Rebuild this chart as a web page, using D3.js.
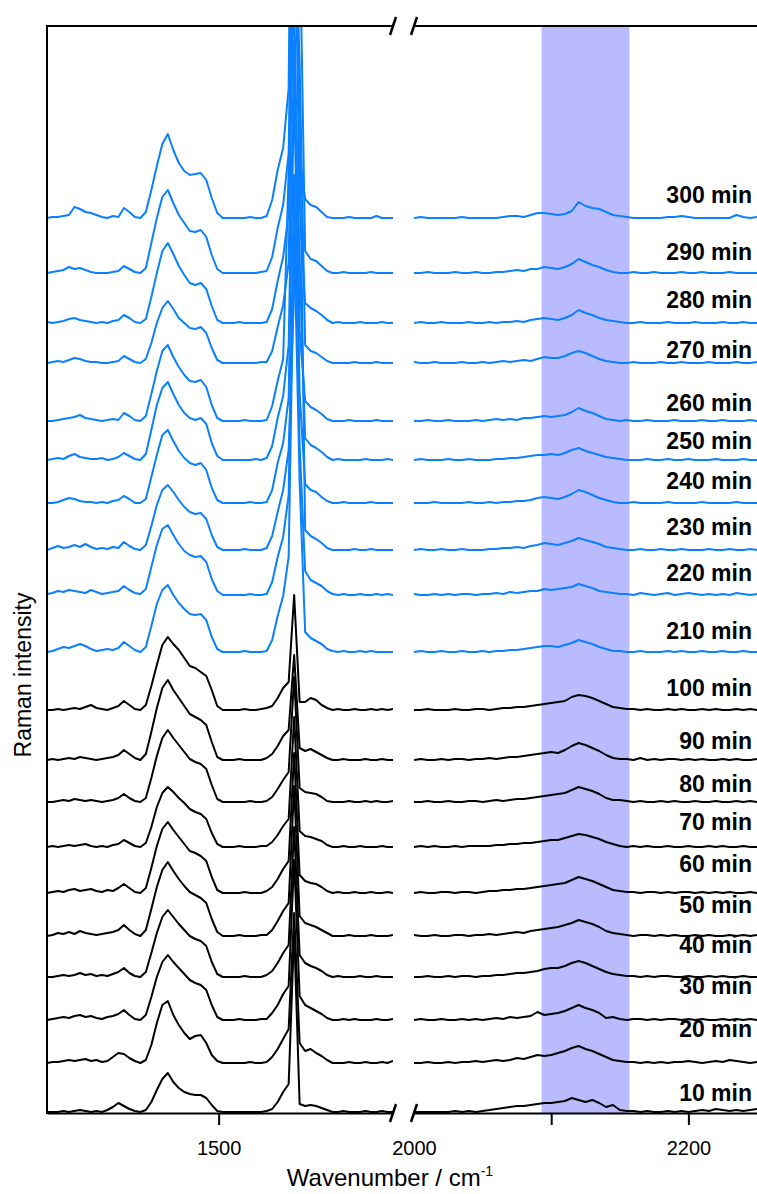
<!DOCTYPE html>
<html>
<head>
<meta charset="utf-8">
<script src="https://cdn.jsdelivr.net/npm/d3@7"></script>
<style>
  body { margin: 0; background: #fff; }
  text { font-family: "Liberation Sans", Arial, sans-serif; }
</style>
</head>
<body>
<div id="chart"></div>
<script>
// wavenumber grids (cm-1) for the two panels of the broken axis
const leftWn = [1375,1379,1383,1387,1391,1395,1399,1403,1407,1411,1415,1419,1423,1427,1431,1435,
  1439,1443,1447,1451,1455,1459,1463,1467,1471,1475,1479,1483,1487,1491,1495,1499,1503,1507,1511,
  1515,1519,1523,1527,1531,1535,1539,1543,1547,1551,1555,1559,1563,1567,1571,1575,1579,1583,1587,
  1591,1595,1599,1603,1607,1611,1615,1619,1623,1627];
const rightWn = [2000,2005,2010,2015,2020,2025,2030,2035,2040,2045,2050,2055,2060,2065,2070,2075,
  2080,2085,2090,2095,2100,2105,2110,2115,2120,2125,2130,2135,2140,2145,2150,2155,2160,2165,2170,
  2175,2180,2185,2190,2195,2200,2205,2210,2215,2220,2225,2230,2235,2240,2245,2250];

const times = [10,20,30,40,50,60,70,80,90,100,210,220,230,240,250,260,270,280,290,300];
// vertical stacking offset of every spectrum (a.u.)
const stackOffset = [1,50,93,136,177,220,266,311,353,403,461,518,563,610,653,692,750,790,840,895];
// where each time label sits above its spectrum (a.u.)
const labelLift = [19,34,34,32,31,29,25,18,19,22,21,22,23,22,19,18,13,23,21,23];

const highlight = [2093, 2157];
const leftTicks = [1500];
const rightTicks = [2000, 2100, 2200];

// intensities, left panel
const left10  = [0,0,0,1,0,1,2,1,0,1,0,2,5,9,6,3,1,0, 2,10,22,33,39,30,24,20,18,17,17,14,7,1,0, 0,0,0,0,0,0,0,1, 3,10,20,28,180,8,6,7,6,4,2,0, 0,1,0,0,0,1,0,0,1,0,0];
const left20  = [0,1,1,2,3,2,3,4,2,3,1,2,6,10,9,5,2,0, 3,18,40,58,62,48,38,30,24,27,28,20,8,2,0, 0,0,0,0,1,0,0,1, 6,14,24,34,150,20,12,14,10,7,3,0, 0,0,1,0,0,1,0,0,1,0,2];
const left30  = [0,1,2,3,2,4,5,3,4,2,1,3,4,6,10,5,1,0, 5,23,43,58,65,58,52,46,40,37,35,30,15,3,0, 0,0,1,0,0,0,1,1, 7,15,26,34,160,24,15,12,9,6,2,0, 0,1,0,1,0,0,0,1,0,0,1];
const left40  = [0,0,1,2,1,2,4,2,3,1,2,1,3,5,9,4,1,0, 5,24,44,60,67,60,53,47,41,38,36,31,15,3,0, 0,0,0,1,0,0,0,2, 6,14,24,32,150,22,14,11,9,6,2,0, 1,0,0,0,1,0,0,1,0,0,0];
const left50  = [0,1,3,2,4,2,5,3,2,1,2,3,4,6,11,6,2,0, 6,27,49,66,74,65,57,50,44,41,38,33,17,4,0, 0,0,1,0,0,0,1,1, 6,15,25,33,150,20,13,11,9,6,3,0, 0,0,1,0,0,0,1,0,0,0,1];
const left60  = [0,1,2,1,3,4,2,3,4,2,1,3,2,5,9,5,1,0, 5,25,47,64,71,63,56,49,42,40,37,32,16,3,0, 0,0,0,1,0,0,0,2, 6,14,24,32,140,18,12,10,9,6,2,0, 1,0,0,1,0,0,1,0,0,1,0];
const left70  = [0,1,0,1,2,1,2,3,1,0,1,0,2,3,7,4,1,0, 4,20,40,54,60,55,49,44,38,35,33,28,14,3,0, 0,0,1,0,0,0,1,1, 5,12,21,28,130,16,11,10,8,6,2,0, 0,1,0,0,1,0,0,0,1,0,0];
const left80  = [0,0,1,2,1,3,2,1,2,1,0,1,2,4,8,4,1,0, 4,24,46,64,72,64,57,50,43,40,38,33,17,3,0, 0,0,0,0,1,0,0,1, 5,13,22,30,125,14,10,9,8,5,1,0, 0,0,1,0,0,1,0,1,0,0,1];
const left90  = [0,1,0,1,2,1,3,2,1,0,1,2,3,5,10,6,2,0, 6,28,52,72,80,70,62,54,46,43,40,35,18,3,0, 0,0,1,0,0,0,0,2, 6,14,24,30,105,12,9,11,8,5,2,0, 0,1,0,0,0,1,0,0,1,0,0];
const left100 = [0,0,1,0,1,2,1,3,5,2,1,0,2,4,9,5,1,0, 5,24,45,65,73,66,60,52,44,42,38,34,20,4,0, 0,0,0,1,0,0,1,2, 4,12,22,28,115,8,8,12,10,5,2,0, 1,0,0,1,0,0,1,0,1,0,1];
const left210 = [0,1,3,5,4,6,8,6,3,1,2,3,2,4,10,6,2,0, 5,26,48,62,67,57,49,43,38,37,38,32,15,3,0, 0,0,0,1,0,0,0,1, 12,36,56,95,420,170,20,14,11,8,3,1, 0,1,0,0,1,0,1,0,0,0,0];
const left220 = [1,2,4,3,5,4,3,2,5,3,1,2,3,4,9,5,2,1, 6,28,50,66,70,60,51,44,40,38,39,33,16,4,0, 0,0,0,0,1,0,0,1, 13,38,58,100,420,150,24,15,12,9,4,1, 0,1,0,0,1,0,0,1,0,1,0];
const left230 = [0,2,4,2,3,5,3,6,3,1,2,1,3,2,8,4,1,0, 5,24,45,60,65,58,50,43,38,36,37,31,15,3,0, 0,0,0,1,0,0,0,2, 14,38,60,100,260,430,20,14,11,7,2,0, 0,0,0,1,0,0,1,0,0,0,0];
const left240 = [0,0,1,3,5,4,2,1,1,0,1,0,2,3,7,4,0,0, 4,26,48,68,73,62,52,45,40,38,40,33,15,3,0, 0,0,0,0,1,0,0,1, 13,40,60,105,420,110,19,13,11,6,2,0, 0,1,0,0,0,0,1,0,0,0,0];
const left250 = [0,1,2,1,4,6,3,2,1,1,2,0,1,3,7,4,1,0, 6,30,55,72,78,66,55,47,42,40,42,36,17,4,0, 0,0,0,0,0,1,0,2, 14,42,64,115,420,200,22,15,12,8,3,0, 1,0,0,0,0,1,0,0,0,1,0];
const left260 = [0,0,1,2,3,4,6,3,2,1,0,1,2,1,8,5,1,0, 5,27,50,70,76,64,54,46,40,39,41,34,16,3,0, 0,0,0,1,0,0,0,1, 15,40,62,250,430,90,20,14,11,7,2,0, 0,0,1,0,0,0,0,1,0,0,0];
const left270 = [0,1,2,1,3,5,4,2,1,1,0,0,1,2,7,4,1,0, 4,20,40,55,62,54,45,40,35,34,36,30,15,3,0, 0,0,0,0,0,0,1,1, 12,36,58,100,440,300,18,12,10,6,2,0, 0,0,0,1,0,0,0,1,0,0,0];
const left280 = [1,0,1,2,4,5,3,2,1,0,1,0,2,3,8,5,1,0, 4,26,50,72,80,69,57,48,40,38,40,34,17,3,0, 0,0,1,0,0,0,0,1, 14,42,66,110,460,120,20,15,12,8,3,0, 1,0,0,0,1,0,0,0,1,0,0];
const left290 = [0,1,2,3,6,4,5,3,1,0,0,0,1,2,7,4,1,0, 5,30,55,76,83,70,58,50,42,41,43,36,18,4,0, 0,0,0,0,0,0,1,2, 16,45,68,120,500,350,22,14,12,7,2,0, 0,1,0,0,0,0,1,0,0,0,0];
const left300 = [0,1,1,2,3,11,9,6,5,3,1,0,2,1,10,6,1,0, 6,28,52,74,84,68,55,47,43,44,45,38,20,5,0, 0,0,0,0,1,0,0,2, 18,48,70,130,700,60,19,13,11,6,1,0, 0,0,1,0,0,0,0,2,0,0,0];

// intensities, right panel
const right10  = [0,0,0,0,0,0,1,0,1,0, 1,2,3,4,5,6,6,7,8,9, 9,10,11,14,12,10,12,9,5,7, 2,1,1,0,1,0,0,1,0,1, 0,1,2,1,3,2,1,2,1,2, 3];
const right20  = [0,0,1,0,0,1,0,1,1,2, 1,2,3,2,3,5,4,6,8,7, 8,10,12,15,17,14,12,9,6,3, 2,1,1,0,1,0,1,0,1,1, 2,1,0,1,2,1,3,2,1,0, 1];
const right30  = [0,1,0,0,1,0,0,1,0,1, 0,1,2,1,3,2,3,4,8,5, 6,7,9,12,15,12,10,7,2,3, 1,0,1,1,0,1,0,1,1,0, 1,0,1,0,0,1,0,1,0,1, 0];
const right40  = [0,0,1,0,0,1,0,1,1,0, 1,1,2,2,3,4,4,5,6,8, 9,9,11,14,16,14,11,8,5,3, 2,1,1,0,1,0,1,1,0,0, 1,0,0,1,0,1,0,0,1,0, 0];
const right50  = [1,0,0,1,0,0,1,1,0,1, 1,2,1,2,3,4,3,5,6,7, 8,9,11,13,16,14,12,9,5,3, 2,1,0,1,1,0,1,0,1,0, 0,1,0,1,0,0,1,0,1,0, 1];
const right60  = [0,1,0,0,1,1,0,1,1,0, 1,2,2,3,3,4,4,5,6,7, 8,9,10,13,16,14,12,9,6,3, 2,1,1,0,1,1,0,1,0,1, 1,0,1,0,1,0,1,0,0,1, 0];
const right70  = [0,1,0,1,0,0,1,0,1,1, 1,1,2,2,3,3,4,4,5,6, 7,7,9,11,13,12,10,8,5,3, 1,0,1,0,1,0,0,1,0,0, 1,0,0,1,0,1,0,0,1,0, 0];
const right80  = [0,0,1,0,0,1,0,0,1,1, 0,1,2,1,2,3,3,4,5,6, 7,8,9,12,15,13,11,8,4,2, 2,1,0,1,0,0,1,0,1,0, 0,1,0,0,1,0,0,1,0,1, 0];
const right90  = [0,1,0,0,1,0,1,1,0,1, 1,2,1,2,3,3,4,5,6,7, 8,7,10,14,17,15,12,9,5,2, 1,1,0,2,0,1,0,1,1,0, 1,0,1,0,0,1,0,1,0,0, 1];
const right100 = [0,0,1,0,0,0,1,0,0,1, 1,0,1,2,2,3,3,4,5,6, 7,8,9,13,15,14,12,9,6,3, 2,1,1,0,1,0,0,1,0,1, 0,0,1,0,1,0,0,1,0,1, 0];
const right210 = [0,1,0,0,1,0,0,1,0,0, 1,0,1,1,2,2,3,4,5,6, 6,5,7,9,12,10,8,5,3,1, 1,0,0,1,0,0,0,1,0,1, 0,0,1,0,0,1,0,0,1,0, 0];
const right220 = [1,0,0,1,0,1,0,1,1,0, 1,1,2,1,3,2,3,4,4,6, 5,6,7,8,11,9,7,4,3,2, 1,1,0,2,1,0,1,2,0,1, 2,1,0,1,0,1,0,2,1,0, 1];
const right230 = [0,1,0,0,1,0,0,1,0,0, 0,1,1,2,2,3,2,4,5,7, 6,5,7,9,12,10,8,6,3,2, 1,0,0,1,0,0,1,0,0,1, 0,0,0,1,0,0,1,0,0,1, 0];
const right240 = [0,0,0,1,0,0,0,0,1,0, 0,1,0,1,1,2,2,3,5,6, 5,4,6,9,13,11,8,5,3,1, 0,0,1,0,0,0,0,1,0,0, 0,0,1,0,0,0,0,1,0,0, 0];
const right250 = [0,1,0,0,0,1,0,0,1,0, 0,0,1,1,2,2,3,4,5,5, 6,5,7,10,12,9,7,5,3,2, 1,0,0,0,1,0,0,1,0,0, 1,0,0,0,1,0,0,0,1,0, 0];
const right260 = [0,0,1,0,0,1,0,0,0,1, 0,1,2,1,2,1,3,3,4,5, 4,5,6,9,13,10,8,5,2,1, 0,1,0,0,1,0,0,0,1,0, 0,0,1,0,0,1,0,0,0,1, 0];
const right270 = [1,0,0,1,0,0,0,1,0,0, 1,0,1,2,1,2,3,2,4,6, 5,5,7,10,12,10,7,4,2,1, 0,0,1,0,0,0,1,0,0,1, 0,0,0,1,0,0,0,1,0,0, 1];
const right280 = [0,1,0,0,1,0,0,0,1,0, 0,1,0,1,1,2,1,3,4,5, 4,3,5,8,13,10,8,5,3,2, 1,0,0,1,0,0,0,1,0,0, 0,1,0,0,0,1,0,0,1,0, 0];
const right290 = [0,0,1,0,0,0,1,0,0,1, 0,0,1,1,2,3,2,4,4,6, 5,4,6,9,14,11,8,6,3,1, 0,0,1,0,0,1,0,0,0,1, 0,0,1,0,0,0,1,0,0,0, 0];
const right300 = [0,1,0,0,0,0,0,1,0,0, 0,0,0,1,2,2,1,3,5,5, 4,3,4,7,16,12,10,9,6,3, 2,1,0,0,0,0,0,1,1,2, 1,0,0,0,0,0,0,3,1,0, 1];

const leftSeries = [left10,left20,left30,left40,left50,left60,left70,left80,left90,left100,
  left210,left220,left230,left240,left250,left260,left270,left280,left290,left300];
const rightSeries = [right10,right20,right30,right40,right50,right60,right70,right80,right90,right100,
  right210,right220,right230,right240,right250,right260,right270,right280,right290,right300];

function makeGraph() {
    let w = 757, h = 1194;
    let top = 26, bottom = 1113, left = 47;
    let svg = d3.select('#chart')
        .append('svg')
        .attr('width', w)
        .attr('height', h);

    let xLeft = d3.scaleLinear().domain([1375, 1627]).range([left, 393]);
    let xRight = d3.scaleLinear().domain([2000, 2250]).range([414, w]);
    let y = d3.scaleLinear().domain([0, 1087]).range([bottom, top]);

    let defs = svg.append('defs');
    defs.append('clipPath').attr('id', 'clipL')
        .append('rect').attr('x', left).attr('y', top)
        .attr('width', 393 - left).attr('height', bottom - top);
    defs.append('clipPath').attr('id', 'clipR')
        .append('rect').attr('x', 414).attr('y', top)
        .attr('width', w - 414).attr('height', bottom - top);

    // shaded band
    svg.append('rect')
        .attr('x', xRight(highlight[0]))
        .attr('y', top)
        .attr('width', xRight(highlight[1]) - xRight(highlight[0]))
        .attr('height', bottom - top)
        .style('fill', '#babaff');

    let spectra = times.map((t, i) => ({
        time: t,
        offset: stackOffset[i],
        lift: labelLift[i],
        color: t > 200 ? '#0a80ff' : '#000',
        left: leftWn.map((wn, j) => ({wn: wn, v: leftSeries[i][j]})),
        right: rightWn.map((wn, j) => ({wn: wn, v: rightSeries[i][j]}))
    }));

    // draw from top spectrum down so lower ones sit on top
    let ordered = spectra.slice().reverse();

    let gl = svg.append('g').attr('clip-path', 'url(#clipL)');
    let gr = svg.append('g').attr('clip-path', 'url(#clipR)');

    ordered.forEach(s => {
        let lineL = d3.line().x(d => xLeft(d.wn)).y(d => y(s.offset + d.v));
        let lineR = d3.line().x(d => xRight(d.wn)).y(d => y(s.offset + d.v));
        gl.append('path')
            .attr('d', lineL(s.left))
            .attr('fill', 'none')
            .attr('stroke', s.color)
            .attr('stroke-width', 2)
            .attr('stroke-linejoin', 'round');
        gr.append('path')
            .attr('d', lineR(s.right))
            .attr('fill', 'none')
            .attr('stroke', s.color)
            .attr('stroke-width', 2)
            .attr('stroke-linejoin', 'round');
    });

    // labels
    svg.selectAll('.lab')
        .data(spectra)
        .enter()
        .append('text')
        .attr('x', 752)
        .attr('y', d => y(d.offset + d.lift))
        .attr('dy', '0.35em')
        .attr('text-anchor', 'end')
        .style('font-size', '23px')
        .style('font-weight', 'bold')
        .text(d => d.time + ' min');

    // axes
    let axL = d3.axisBottom(xLeft).tickValues(leftTicks).tickSize(12).tickSizeOuter(0).tickPadding(16)
        .tickFormat(d3.format('d'));
    let axR = d3.axisBottom(xRight).tickValues(rightTicks).tickSize(12).tickSizeOuter(0).tickPadding(16)
        .tickFormat(d => d === 2100 ? '' : d3.format('d')(d));

    [axL, axR].forEach(ax => {
        let g = svg.append('g')
            .attr('transform', `translate(0, ${bottom})`)
            .call(ax);
        g.select('.domain').attr('stroke-width', 2);
        g.selectAll('.tick line').attr('stroke-width', 2);
        g.selectAll('.tick text')
            .style('font-size', '20px')
            .style('font-family', '"Liberation Sans", Arial, sans-serif')
            .attr('fill', '#000');
        g.selectAll('.tick').filter(d => d === 2000).select('line').remove();
    });

    // frame: left side and top
    svg.append('line').attr('x1', left).attr('x2', left).attr('y1', top - 1).attr('y2', bottom + 1)
        .attr('stroke', '#000').attr('stroke-width', 2);
    svg.append('line').attr('x1', left).attr('x2', 393).attr('y1', top).attr('y2', top)
        .attr('stroke', '#000').attr('stroke-width', 2);
    svg.append('line').attr('x1', 414).attr('x2', w).attr('y1', top).attr('y2', top)
        .attr('stroke', '#000').attr('stroke-width', 2);

    // axis break marks
    [393, 414].forEach(bx => {
        [top, bottom].forEach(by => {
            svg.append('line')
                .attr('x1', bx - 3).attr('y1', by + 9)
                .attr('x2', bx + 3).attr('y2', by - 9)
                .attr('stroke', '#000').attr('stroke-width', 2.5);
        });
    });

    svg.append('text')
        .attr('transform', 'translate(31, 675) rotate(-90)')
        .attr('text-anchor', 'middle')
        .style('font-size', '23px')
        .text('Raman intensity');

    let xt = svg.append('text')
        .attr('x', 390)
        .attr('y', 1186)
        .attr('text-anchor', 'middle')
        .style('font-size', '24px');
    xt.append('tspan').text('Wavenumber / cm');
    xt.append('tspan').attr('dy', -10).style('font-size', '14px').text('-1');
}

window.onload = () => {
    makeGraph();
};
</script>
</body>
</html>
